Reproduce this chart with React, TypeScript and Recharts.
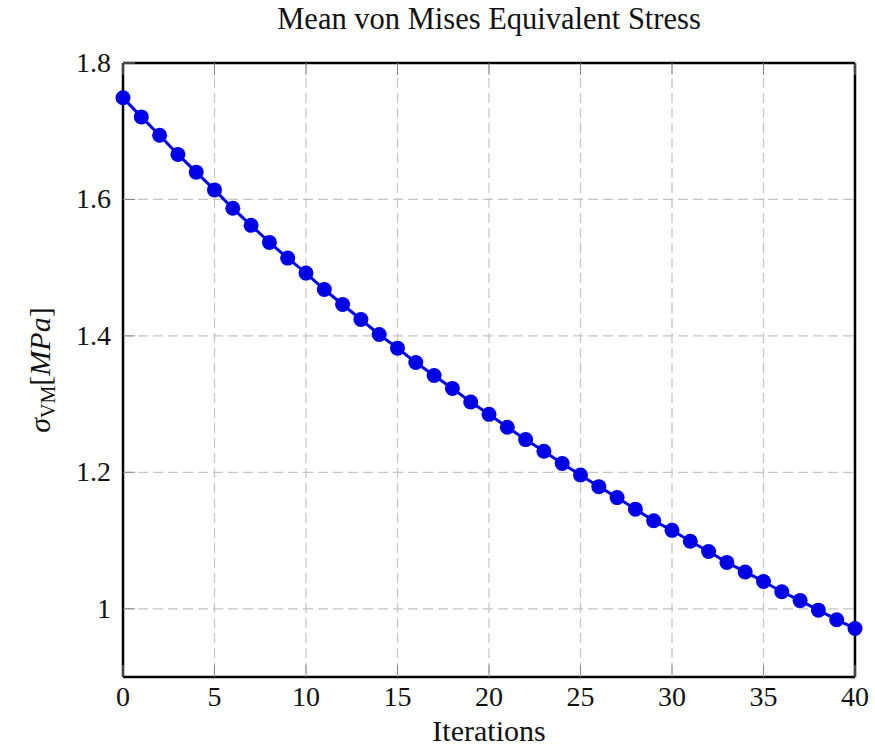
import React from "react";
import { LineChart, Line, XAxis, YAxis, CartesianGrid } from "recharts";

const iterations = [
  0, 1, 2, 3, 4, 5, 6, 7, 8, 9, 10, 11, 12, 13, 14, 15, 16, 17, 18, 19, 20,
  21, 22, 23, 24, 25, 26, 27, 28, 29, 30, 31, 32, 33, 34, 35, 36, 37, 38, 39, 40,
];
const stress = [
  1.749, 1.721, 1.694, 1.666, 1.64, 1.614, 1.587, 1.562, 1.537, 1.514, 1.492,
  1.468, 1.446, 1.424, 1.402, 1.382, 1.361, 1.342, 1.323, 1.303, 1.285, 1.266,
  1.248, 1.231, 1.213, 1.196, 1.179, 1.163, 1.146, 1.129, 1.115, 1.099, 1.084,
  1.068, 1.054, 1.04, 1.025, 1.012, 0.998, 0.984, 0.971,
];
const xTicks = [0, 5, 10, 15, 20, 25, 30, 35, 40];
const yTicks = [1, 1.2, 1.4, 1.6, 1.8];
const title = "Mean von Mises Equivalent Stress";
const xLabel = "Iterations";

const data = iterations.map((it, i) => ({ it, s: stress[i] }));

const FONT = "'Liberation Serif', 'Times New Roman', serif";
const FS = 28;
const TICK_LEN = 12;
const TICK_COLOR = "#8a8a8a";
const BLUE = "#0000e6";

const BottomTick = (props: any) => {
  const { x, y, payload } = props;
  return (
    <g>
      <line x1={x} y1={y} x2={x} y2={y - TICK_LEN} stroke={TICK_COLOR} strokeWidth={1} />
      <text x={x} y={y + 29} textAnchor="middle" fontFamily={FONT} fontSize={FS} fill="#111">
        {payload.value}
      </text>
    </g>
  );
};
const TopTick = (props: any) => {
  const { x, y } = props;
  return <line x1={x} y1={y} x2={x} y2={y + TICK_LEN} stroke={TICK_COLOR} strokeWidth={1} />;
};
const LeftTick = (props: any) => {
  const { x, y, payload } = props;
  return (
    <g>
      <line x1={x} y1={y} x2={x + TICK_LEN} y2={y} stroke={TICK_COLOR} strokeWidth={1} />
      <text x={x - 12} y={y + 9} textAnchor="end" fontFamily={FONT} fontSize={FS} fill="#111">
        {String(payload.value)}
      </text>
    </g>
  );
};
const RightTick = (props: any) => {
  const { x, y } = props;
  return <line x1={x} y1={y} x2={x - TICK_LEN} y2={y} stroke={TICK_COLOR} strokeWidth={1} />;
};

const YLabel = (props: any) => {
  const vb = props.viewBox || { x: 0, y: 63, width: 123, height: 614 };
  const cx = vb.x + 50;
  const cy = vb.y + vb.height / 2;
  return (
    <text
      x={cx}
      y={cy}
      transform={`rotate(-90 ${cx} ${cy})`}
      textAnchor="middle"
      fontFamily={FONT}
      fontSize={30}
      fill="#111"
    >
      <tspan fontStyle="italic">σ</tspan>
      <tspan fontSize={20} dy={5}>VM</tspan>
      <tspan dy={-5}>[</tspan>
      <tspan fontStyle="italic">MPa</tspan>
      <tspan>]</tspan>
    </text>
  );
};

const XLabel = (props: any) => {
  const vb = props.viewBox || { x: 123, y: 677, width: 732, height: 70 };
  return (
    <text
      x={vb.x + vb.width / 2}
      y={741}
      textAnchor="middle"
      fontFamily={FONT}
      fontSize={30}
      fill="#111"
    >
      {xLabel}
    </text>
  );
};

const TitleLabel = (props: any) => {
  const vb = props.viewBox || { x: 123, y: 62, width: 732, height: 1 };
  return (
    <text
      x={vb.x + vb.width / 2}
      y={29}
      textAnchor="middle"
      fontFamily={FONT}
      fontSize={30.5}
      fill="#111"
    >
      {title}
    </text>
  );
};

export default function App() {
  return (
    <div style={{ position: "absolute", left: 0, top: 0, background: "#fff" }}>
      <LineChart
        width={875}
        height={747}
        data={data}
        margin={{ top: 62, right: 19, left: 0, bottom: 0 }}
      >
        <CartesianGrid
          stroke="#c4c4c4"
          strokeDasharray="10 5"
          strokeWidth={1.2}
          xAxisId="b"
          yAxisId="l"
          verticalValues={[5, 10, 15, 20, 25, 30, 35]}
          horizontalValues={[1, 1.2, 1.4, 1.6]}
        />
        <XAxis
          xAxisId="b"
          dataKey="it"
          type="number"
          domain={[0, 40]}
          ticks={xTicks}
          interval={0}
          height={70}
          tickSize={0}
          tickMargin={0}
          tickLine={false}
          tick={<BottomTick />}
          axisLine={{ stroke: "#000", strokeWidth: 2.5 }}
          label={<XLabel />}
        />
        <XAxis
          xAxisId="t"
          orientation="top"
          dataKey="it"
          type="number"
          domain={[0, 40]}
          ticks={xTicks}
          interval={0}
          height={1}
          tickSize={0}
          tickMargin={0}
          tickLine={false}
          tick={<TopTick />}
          axisLine={{ stroke: "#000", strokeWidth: 2.5 }}
          label={<TitleLabel />}
        />
        <YAxis
          yAxisId="l"
          type="number"
          domain={[0.9, 1.8]}
          ticks={yTicks}
          interval={0}
          width={123}
          tickSize={0}
          tickMargin={0}
          tickLine={false}
          tick={<LeftTick />}
          axisLine={{ stroke: "#000", strokeWidth: 2.5 }}
          label={<YLabel />}
        />
        <YAxis
          yAxisId="r"
          orientation="right"
          type="number"
          domain={[0.9, 1.8]}
          ticks={yTicks}
          interval={0}
          width={1}
          tickSize={0}
          tickMargin={0}
          tickLine={false}
          tick={<RightTick />}
          axisLine={{ stroke: "#000", strokeWidth: 2.5 }}
        />
        <Line
          xAxisId="b"
          yAxisId="l"
          dataKey="s"
          type="linear"
          stroke={BLUE}
          strokeWidth={3}
          dot={{ r: 7.5, fill: BLUE, stroke: BLUE, strokeWidth: 0 }}
          activeDot={false}
          isAnimationActive={false}
        />
      </LineChart>
    </div>
  );
}
